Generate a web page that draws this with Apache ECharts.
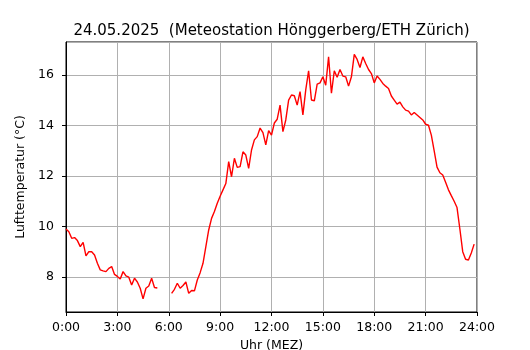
<!DOCTYPE html>
<html>
<head>
<meta charset="utf-8">
<script src="https://cdn.jsdelivr.net/npm/echarts@6/dist/echarts.min.js"></script>
<style>
  html, body { margin: 0; padding: 0; background: #fff; }
  #chart { width: 530px; height: 350px; }
</style>
</head>
<body>
<div id="chart"></div>
<script>
// Lufttemperatur in 10-Minuten-Schritten ab 0:00 (null = keine Messung)
var title = '24.05.2025  (Meteostation Hönggerberg/ETH Zürich)';
var stepMinutes = 10;
var temps = [
    9.9, 9.79, 9.53, 9.56, 9.44, 9.2, 9.37, 8.83, 9.0, 9.0,
    8.87, 8.54, 8.28, 8.24, 8.21, 8.34, 8.41, 8.1, 8.02, 7.92,
    8.21, 8.04, 7.99, 7.68, 7.95, 7.8, 7.55, 7.13, 7.55, 7.64,
    7.95, 7.58, 7.56, null, null, null, null, 7.35, 7.51, 7.75,
    7.55, 7.66, 7.8, 7.35, 7.46, 7.45, 7.88, 8.17, 8.54, 9.2,
    9.86, 10.32, 10.59, 10.92, 11.2, 11.45, 11.7, 12.57, 11.97, 12.7,
    12.34, 12.37, 12.96, 12.83, 12.3, 13.03, 13.43, 13.56, 13.9, 13.72,
    13.23, 13.8, 13.62, 14.1, 14.25, 14.81, 13.76, 14.22, 15.01, 15.21,
    15.18, 14.81, 15.34, 14.42, 15.41, 16.17, 15.01, 14.98, 15.64, 15.69,
    15.93, 15.6, 16.72, 15.28, 16.17, 15.91, 16.22, 15.96, 15.93, 15.56,
    15.93, 16.82, 16.62, 16.3, 16.72, 16.46, 16.22, 16.06, 15.69, 15.96,
    15.83, 15.67, 15.56, 15.47, 15.17, 15.01, 14.85, 14.93, 14.74, 14.61,
    14.57, 14.42, 14.52, 14.42, 14.32, 14.22, 14.05, 14.01, 13.62, 13.0,
    12.35, 12.13, 12.04, 11.75, 11.45, 11.22, 11.0, 10.75, 9.9, 9.0,
    8.7, 8.67, 8.95, 9.3
];

var xTicks = ['0:00', '3:00', '6:00', '9:00', '12:00', '15:00', '18:00', '21:00', '24:00'];

var points = [];
for (var i = 0; i < temps.length; i++) {
    points.push([i * stepMinutes, temps[i]]);
}

var font = 'DejaVu Sans';
var chart = echarts.init(document.getElementById('chart'), null, {renderer: 'canvas'});
var option = {
    animation: false,
    backgroundColor: '#fff',
    title: {
        text: title,
        left: 266.5,
        textAlign: 'center',
        top: 19,
        textStyle: {fontFamily: font, fontSize: 15, fontWeight: 'normal', color: '#000'}
    },
    grid: {
        left: 66, right: 53, top: 42, bottom: 38,
        outerBoundsMode: 'none',
        containLabel: false,
        show: true, borderColor: '#000', borderWidth: 1, backgroundColor: 'transparent'
    },
    xAxis: {
        type: 'value',
        min: 0,
        max: 1440,
        interval: 180,
        name: 'Uhr (MEZ)',
        nameLocation: 'middle',
        nameGap: 27,
        nameTextStyle: {fontFamily: font, fontSize: 12.5, color: '#000'},
        axisLine: {show: true, lineStyle: {color: '#000', width: 1}},
        axisTick: {show: true, length: 4, lineStyle: {color: '#000'}},
        axisLabel: {
            fontFamily: font, fontSize: 12.5, color: '#000', margin: 9,
            formatter: function (v) { return xTicks[Math.round(v / 180)]; }
        },
        splitLine: {show: true, lineStyle: {color: '#b0b0b0', width: 1}}
    },
    yAxis: {
        type: 'value',
        min: 6.61,
        max: 17.31,
        name: 'Lufttemperatur (°C)',
        nameLocation: 'middle',
        nameGap: 30,
        nameRotate: 90,
        nameTextStyle: {fontFamily: font, fontSize: 12.5, color: '#000'},
        axisLine: {show: true, lineStyle: {color: '#000', width: 1}},
        axisTick: {show: true, length: 4, lineStyle: {color: '#000'}},
        axisLabel: {
            fontFamily: font, fontSize: 12.5, color: '#000', margin: 12,
            showMinLabel: false, showMaxLabel: false,
            formatter: function (v) { return Math.abs(v - Math.round(v)) < 1e-6 ? String(v) : ''; }
        },
        splitLine: {show: true, lineStyle: {color: '#b0b0b0', width: 1}}
    },
    series: [{
        type: 'line',
        data: points,
        showSymbol: false,
        connectNulls: false,
        lineStyle: {color: '#ff0000', width: 1.4},
        itemStyle: {color: '#ff0000'}
    }]
};
chart.setOption(option);
</script>
</body>
</html>
